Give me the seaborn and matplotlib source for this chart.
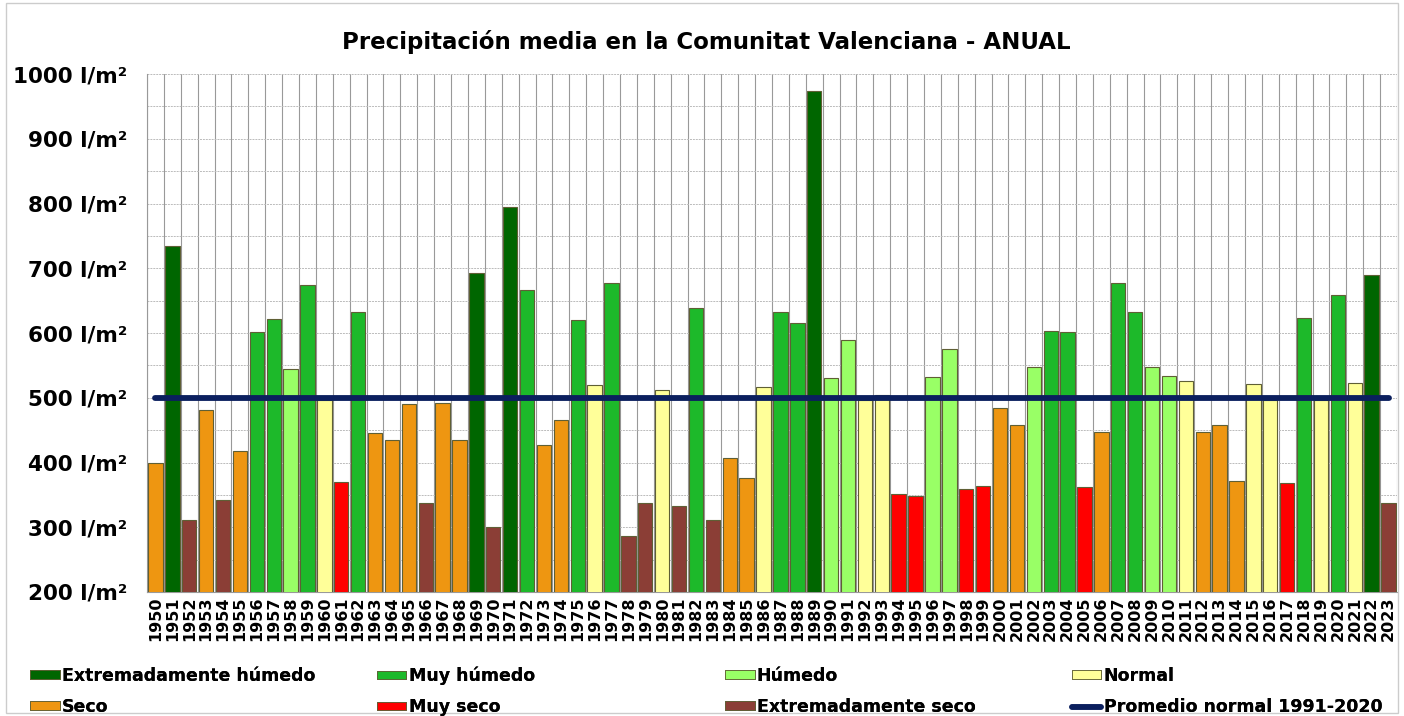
import matplotlib.pyplot as plt
import numpy as np
import pandas as pd
import seaborn as sns
from matplotlib.lines import Line2D
from matplotlib.patches import Patch, Rectangle


years = list(range(1950, 2024))

precipitation = [
    400, 735, 311, 481, 342, 418, 602, 621, 545, 674,
    497, 370, 632, 445, 435, 490, 337, 492, 435, 693,
    300, 794, 667, 427, 466, 620, 520, 677, 286, 337,
    512, 333, 639, 311, 407, 376, 517, 633, 616, 974,
    530, 589, 497, 504, 351, 349, 532, 576, 359, 364,
    484, 458, 548, 603, 601, 362, 447, 678, 633, 548,
    534, 526, 447, 458, 371, 521, 497, 369, 623, 496,
    658, 523, 689, 337,
]

category_codes = [
    "S", "EH", "ES", "S", "ES", "S", "MH", "MH", "H", "MH",
    "N", "MS", "MH", "S", "S", "S", "ES", "S", "S", "EH",
    "ES", "EH", "MH", "S", "S", "MH", "N", "MH", "ES", "ES",
    "N", "ES", "MH", "ES", "S", "S", "N", "MH", "MH", "EH",
    "H", "H", "N", "N", "MS", "MS", "H", "H", "MS", "MS",
    "S", "S", "H", "MH", "MH", "MS", "S", "MH", "MH", "H",
    "H", "N", "S", "S", "S", "N", "N", "MS", "MH", "N",
    "MH", "N", "EH", "ES",
]

category_names = {
    "EH": "Extremadamente húmedo",
    "MH": "Muy húmedo",
    "H": "Húmedo",
    "N": "Normal",
    "S": "Seco",
    "MS": "Muy seco",
    "ES": "Extremadamente seco",
}

category_colors = {
    "Extremadamente húmedo": "#006600",
    "Muy húmedo": "#1db92a",
    "Húmedo": "#99ff66",
    "Normal": "#ffff99",
    "Seco": "#ee9611",
    "Muy seco": "#ff0000",
    "Extremadamente seco": "#8b3e36",
}

normal_1991_2020 = 500
normal_label = "Promedio normal 1991-2020"
line_color = "#0b1f5e"

y_ticks = list(range(200, 1001, 100))

# legend laid out in four fixed columns, two rows each
legend_columns = [
    ["Extremadamente húmedo", "Seco"],
    ["Muy húmedo", "Muy seco"],
    ["Húmedo", "Extremadamente seco"],
    ["Normal", normal_label],
]
legend_x = [0.0214, 0.2685, 0.5164, 0.7635]


data = pd.DataFrame(
    {
        "year": [str(year) for year in years],
        "value": precipitation,
        "category": [category_names[code] for code in category_codes],
    }
)

sns.set_style("white")
plt.rcParams["font.family"] = ["DejaVu Sans"]
plt.rcParams["text.color"] = "black"
plt.rcParams["xtick.color"] = "black"
plt.rcParams["ytick.color"] = "black"

figure = plt.figure(
    figsize=(14.04, 7.16),
    dpi=100,
)

axis = figure.add_axes([0.1047, 0.1732, 0.8903, 0.7234])

sns.barplot(
    data=data,
    x="year",
    y="value",
    hue="category",
    palette=category_colors,
    saturation=1,
    dodge=False,
    width=0.85,
    edgecolor="#5f5f35",
    linewidth=0.8,
    legend=False,
    ax=axis,
    zorder=3,
)

axis.plot(
    [0, len(years) - 1],
    [normal_1991_2020, normal_1991_2020],
    color=line_color,
    linewidth=4.2,
    solid_capstyle="round",
    zorder=5,
)

axis.set_xlim(-0.5, len(years) - 0.5)
axis.set_ylim(200, 1000)

axis.set_yticks(y_ticks)
axis.set_yticklabels(
    [f"{tick} l/m²" for tick in y_ticks],
    fontsize=15.5,
    fontweight="bold",
)
axis.set_yticks(np.arange(250, 1000, 100), minor=True)

axis.set_xticks(np.arange(-0.5, len(years)), minor=True)
axis.tick_params(axis="x", which="major", length=0, pad=3)
axis.tick_params(axis="x", which="minor", length=5, color="#999999")
axis.tick_params(axis="y", which="both", length=0, pad=14)

plt.setp(
    axis.get_xticklabels(),
    rotation=90,
    fontsize=11.5,
    fontweight="bold",
)

axis.grid(
    axis="y",
    which="both",
    color="#bbbbbb",
    linestyle=(0, (2, 1)),
    linewidth=0.7,
    zorder=0,
)
axis.grid(
    axis="x",
    which="minor",
    color="#999999",
    linestyle="-",
    linewidth=0.8,
    zorder=0,
)
axis.set_axisbelow(True)

axis.set_xlabel("")
axis.set_ylabel("")

for side in ["top", "right"]:
    axis.spines[side].set_visible(False)

for side in ["left", "bottom"]:
    axis.spines[side].set_color("#999999")
    axis.spines[side].set_linewidth(0.8)

figure.text(
    0.503,
    0.941,
    "Precipitación media en la Comunitat Valenciana - ANUAL",
    ha="center",
    va="center",
    fontsize=16.5,
    fontweight="bold",
)

handles = {
    name: Patch(facecolor=color, edgecolor="#5f5f35", linewidth=0.6)
    for name, color in category_colors.items()
}
handles[normal_label] = Line2D(
    [0],
    [0],
    color=line_color,
    linewidth=4,
    solid_capstyle="round",
)

for names, x_position in zip(legend_columns, legend_x):

    legend = figure.legend(
        [handles[name] for name in names],
        names,
        loc="center left",
        bbox_to_anchor=(x_position, 0.0342),
        frameon=False,
        prop={"weight": "bold", "size": 12.5},
        borderpad=0,
        borderaxespad=0,
        handlelength=1.7,
        handleheight=0.4,
        handletextpad=0.12,
        labelspacing=0.75,
    )

    figure.add_artist(legend)

figure.patches.append(
    Rectangle(
        (0.004, 0.004),
        0.992,
        0.992,
        transform=figure.transFigure,
        fill=False,
        edgecolor="#cccccc",
        linewidth=1,
    )
)

plt.savefig(
    "out.png",
    dpi=100,
)

plt.close()
